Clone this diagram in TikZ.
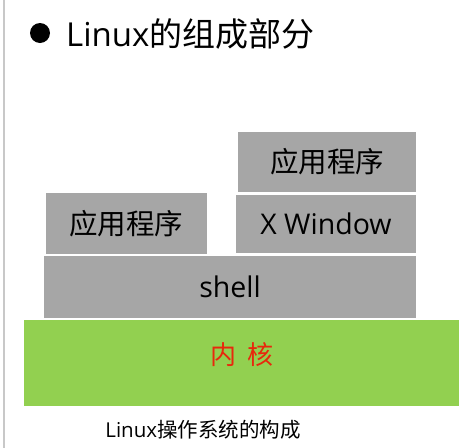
\documentclass[tikz,border=0pt]{standalone}
\usepackage{fontspec}
\setmainfont{Noto Sans CJK SC}
\newfontfamily\latinfont{Open Sans}
\definecolor{boxgray}{HTML}{A6A6A6}
\definecolor{kgreen}{HTML}{92D050}
\definecolor{kred}{HTML}{E8280C}
\definecolor{edgegray}{HTML}{C8C8C8}
\begin{document}
\begin{tikzpicture}[x=1pt,y=-1pt,
  layer/.style={fill=boxgray,draw=none,inner sep=0pt,outer sep=0pt},
  lbl/.style={inner sep=0pt,font=\fontsize{28.5}{32}\selectfont}]
\useasboundingbox[fill=white] (0,0) rectangle (459,448);
\draw[edgegray,line width=1.2pt] (4,0) -- (4,448);
\fill[black] (40,33) circle (10);
\node[anchor=west,inner sep=0pt,font=\fontsize{33}{36}\selectfont] (title) at (66,34) {{\latinfont Linux}的组成部分};
% boxes
\fill[layer] (238,132) rectangle (416,192);
\node[lbl] (app2) at (327,162) {应用程序};
\fill[layer] (46,193) rectangle (207,254);
\node[lbl] (app1) at (126.5,224) {应用程序};
\fill[layer] (236,195) rectangle (416,253);
\node[lbl,font=\latinfont\fontsize{28.5}{32}\selectfont] (xwin) at (326,224) {X Window};
\fill[layer] (44,256) rectangle (416,318);
\node[lbl,font=\latinfont\fontsize{28.5}{32}\selectfont] (shell) at (230,287) {shell};
\fill[kgreen] (24,320) rectangle (459,406);
\node[lbl,text=kred,font=\fontsize{26}{30}\selectfont] (kernel) at (242,355) {内\hspace{0.4em}核};
\node[inner sep=0pt,font=\fontsize{20.5}{24}\selectfont] (cap) at (203,430) {{\latinfont Linux}操作系统的构成};
\end{tikzpicture}
\end{document}
